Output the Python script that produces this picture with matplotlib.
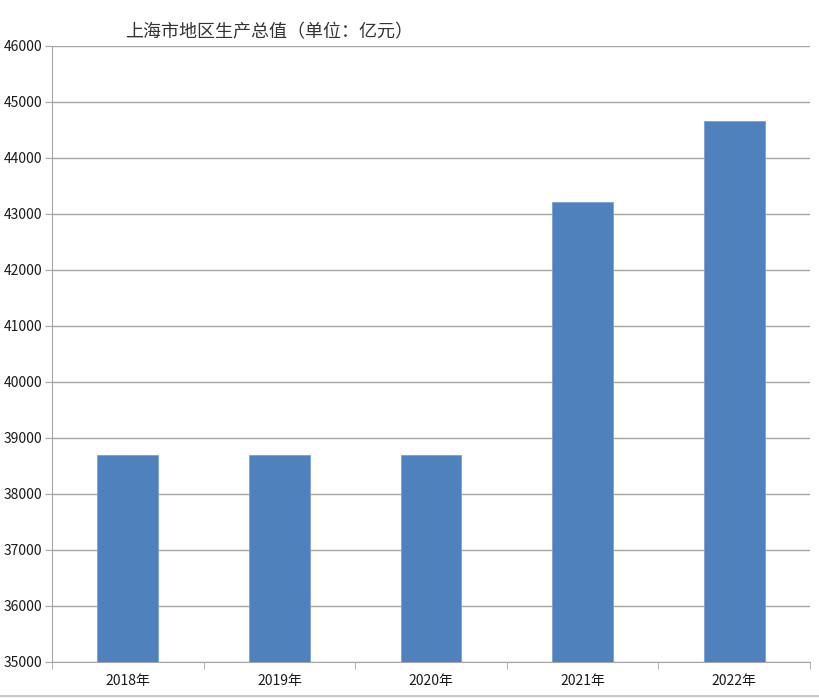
import matplotlib
matplotlib.use("Agg")
import matplotlib.pyplot as plt
from matplotlib.lines import Line2D

plt.rcParams['font.family'] = ['Noto Sans CJK SC', 'DejaVu Sans']

# chart data
years = ["2018年", "2019年", "2020年", "2021年", "2022年"]
gdpValues = [38700, 38700, 38700, 43215, 44653]
yTicks = [35000, 36000, 37000, 38000, 39000, 40000, 41000, 42000, 43000, 44000, 45000, 46000]
chartTitle = "上海市地区生产总值（单位：亿元）"


def Main():
    fig = plt.figure(figsize=(8.2, 6.98), dpi=100)
    ax = fig.add_axes([0.0634, 0.0516, 0.9244, 0.8825])

    positions = list(range(len(years)))
    ax.bar(positions, gdpValues, width=0.4, color="#4f81bd", edgecolor="#7a9fd0",
           linewidth=0.6, zorder=3)

    ax.set_xlim(-0.5, len(years) - 0.5)
    ax.set_ylim(yTicks[0], yTicks[-1])
    ax.set_yticks(yTicks)
    ax.set_yticklabels([str(t) for t in yTicks], fontsize=10, color="#1a1a1a")
    ax.yaxis.grid(True, color="#a6a6a6", linewidth=1.0, zorder=0)
    ax.tick_params(axis="y", length=5, color="#a6a6a6", pad=2)

    # category labels in the middle, tick marks between categories
    ax.set_xticks(positions)
    ax.set_xticklabels(years, fontsize=10, color="#1a1a1a")
    ax.tick_params(axis="x", which="major", length=0, pad=9)
    ax.set_xticks([p - 0.5 for p in positions] + [len(years) - 0.5], minor=True)
    ax.tick_params(axis="x", which="minor", length=5, color="#a6a6a6")

    for side in ["top", "right"]:
        ax.spines[side].set_visible(False)
    ax.spines["left"].set_color("#a6a6a6")
    ax.spines["bottom"].set_color("#a6a6a6")

    fig.text(0.152, 0.954, chartTitle, fontsize=13, color="#333333", va="center")

    # bottom border of the picture
    fig.add_artist(Line2D([0, 1], [0.003, 0.003], color="#c8c8c8", linewidth=1.5))

    fig.savefig("out.png", dpi=100, facecolor="white")


Main()
